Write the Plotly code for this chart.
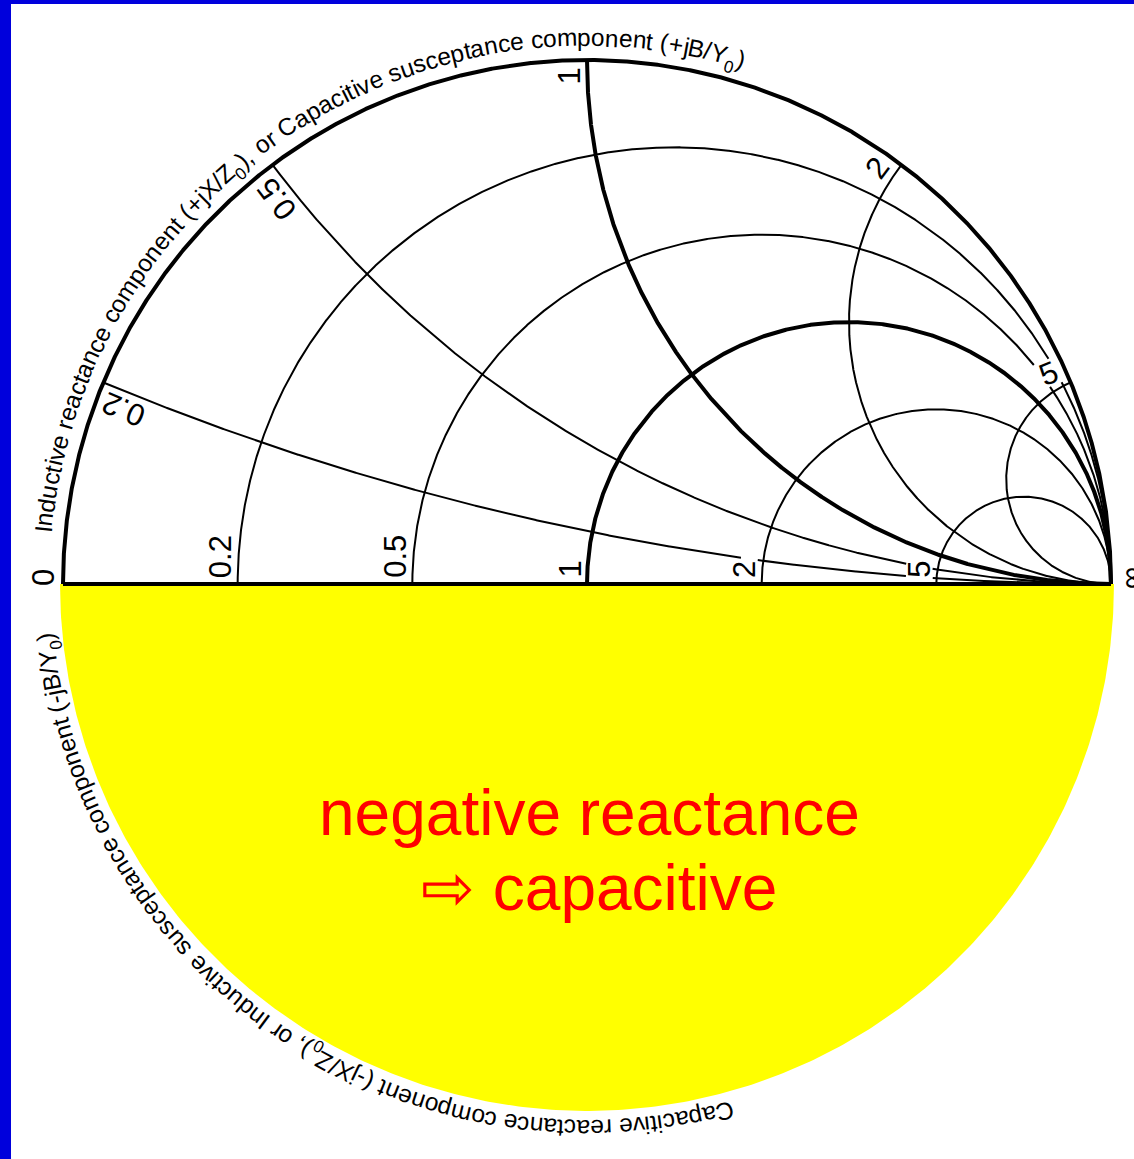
import numpy as np
import plotly.graph_objects as go

# ---------------- chart content ----------------
resistance_values = [0.2, 0.5, 1, 2, 5]
reactance_values = [0.2, 0.5, 1, 2, 5]
heavy_values = [1]                       # drawn with a heavier pen
resistance_labels = ["0.2", "0.5", "1", "2", "5"]
reactance_labels = ["0.2", "0.5", "1", "2", "5"]
axis_end_labels = ["0", "\u221e"]

# (text, is_subscript)
upper_caption = [("Inductive reactance component (+jX/Z", False), ("0", True),
                 ("), or Capacitive susceptance component (+jB/Y", False), ("0", True),
                 (")", False)]
lower_caption = [("Capacitive reactance component (-jX/Z", False), ("0", True),
                 ("), or Inductive susceptance component (-jB/Y", False), ("0", True),
                 (")", False)]
note_lines = ["negative reactance", "\u21e8 capacitive"]

# ---------------- page geometry ----------------
W, H = 1134, 1159
CX, CY, SCALE = 587, 584, 524          # pixel position of Gamma = 0, pixels per unit Gamma
FONT = "Liberation Sans, Arial, Helvetica, sans-serif"
LABEL_SIZE = 31
CAPTION_SIZE = 24.5
NOTE_SIZE = 64
THIN, THICK = 2, 4

# Arial / Liberation Sans advance widths (1/1000 em)
ADV = {" ": 278, "(": 333, ")": 333, "+": 584, ",": 278, "-": 333, "/": 278, ".": 278,
       "0": 556, "1": 556, "2": 556, "5": 556,
       "B": 667, "C": 722, "I": 278, "X": 667, "Y": 667, "Z": 611,
       "a": 556, "c": 500, "d": 556, "e": 556, "i": 222, "j": 222, "m": 833,
       "n": 556, "o": 556, "p": 556, "r": 333, "s": 500, "t": 278, "u": 556, "v": 500}


def text_width(s, size):
    return sum(ADV.get(c, 556) for c in s) / 1000.0 * size


# ---------------- value labels ----------------
labels = []   # dicts: text, c (pixels, y up), u (reading dir), v (up dir)


def add_label(text, cx, cy, ang_deg, mask=True):
    a = np.radians(ang_deg)
    u = np.array([np.cos(a), np.sin(a)])
    v = np.array([-np.sin(a), np.cos(a)])
    labels.append(dict(text=text, c=np.array([cx, cy]), u=u, v=v, ang=ang_deg, mask=mask))


SIDE = 17     # distance from the gridline to the label centre
GAP = 6       # distance from the boundary to the label end

for r, lab in zip(resistance_values, resistance_labels):
    cross = (r - 1) / (r + 1) * SCALE
    half = text_width(lab, LABEL_SIZE) / 2
    add_label(lab, cross - SIDE, GAP + half, 90)

for x, lab in zip(reactance_values, reactance_labels):
    px = (x * x - 1) / (x * x + 1) * SCALE
    py = 2 * x / (x * x + 1) * SCALE
    th = np.arctan2(py, px)
    radial = np.array([np.cos(th), np.sin(th)])
    up = np.array([-np.sin(th), np.cos(th)])
    half = text_width(lab, LABEL_SIZE) / 2
    c = np.array([px, py]) - (8 + half) * radial + SIDE * up
    add_label(lab, c[0], c[1], np.degrees(th))

add_label(axis_end_labels[0], -SCALE - 20, 6, 90, mask=False)
add_label(axis_end_labels[1], SCALE + 19, 6, 90, mask=False)


def masked(xs, ys):
    """Break a curve where it runs underneath a value label."""
    P = np.column_stack([xs, ys]) * SCALE
    hide = np.zeros(len(xs), dtype=bool)
    for lb in labels:
        if not lb["mask"]:
            continue
        d = P - lb["c"]
        along = np.abs(d @ lb["u"])
        across = np.abs(d @ lb["v"])
        ha = text_width(lb["text"], LABEL_SIZE) / 2 + 3
        hc = 0.42 * LABEL_SIZE
        hide |= (along < ha) & (across < hc)
    xs = np.where(hide, np.nan, xs)
    ys = np.where(hide, np.nan, ys)
    return xs, ys


fig = go.Figure()

# lower half disc
t = np.linspace(np.pi, 2 * np.pi, 400)
rr = 527 / SCALE
fig.add_trace(go.Scatter(x=rr * np.cos(t), y=rr * np.sin(t), mode="lines", fill="toself",
                         fillcolor="#FFFF00", line=dict(width=0), hoverinfo="skip"))

N = 2500
# constant-resistance circles (upper half)
for r in resistance_values:
    t = np.linspace(0, np.pi, N)
    c, a = r / (1 + r), 1 / (1 + r)
    xs, ys = masked(c + a * np.cos(t), a * np.sin(t))
    fig.add_trace(go.Scatter(x=xs, y=ys, mode="lines", hoverinfo="skip",
                             line=dict(color="black", width=THICK if r in heavy_values else THIN)))

# constant-reactance arcs
for x in reactance_values:
    end = np.arctan2(2 * x / (x * x + 1) - 1 / x, (x * x - 1) / (x * x + 1) - 1)
    if end > 0:
        end -= 2 * np.pi
    t = np.linspace(-np.pi / 2, end, N)
    xs, ys = masked(1 + np.cos(t) / x, 1 / x + np.sin(t) / x)
    fig.add_trace(go.Scatter(x=xs, y=ys, mode="lines", hoverinfo="skip",
                             line=dict(color="black", width=THICK if x in heavy_values else THIN)))

# outer circle (r = 0) and the real axis
t = np.linspace(0, np.pi, N)
fig.add_trace(go.Scatter(x=np.cos(t), y=np.sin(t), mode="lines", hoverinfo="skip",
                         line=dict(color="black", width=THICK)))
fig.add_trace(go.Scatter(x=[-1, 1], y=[0, 0], mode="lines", hoverinfo="skip",
                         line=dict(color="black", width=THICK)))

annotations = []
for lb in labels:
    annotations.append(dict(x=lb["c"][0] / SCALE, y=lb["c"][1] / SCALE, xref="x", yref="y",
                            text=lb["text"], showarrow=False, textangle=-lb["ang"],
                            xanchor="center", yanchor="middle",
                            font=dict(family=FONT, size=LABEL_SIZE, color="black")))


def arc_text(segments, theta0_deg, r_base, size):
    """Set a caption letter by letter, clockwise round the chart, tops outward."""
    out = []
    s = 0.0
    for text, sub in segments:
        fs = size * 0.7 if sub else size
        lift = (-0.3 * size + 0.35 * fs) if sub else 0.35 * fs
        for ch in text:
            w = ADV.get(ch, 556) / 1000.0 * fs
            if ch != " ":
                th = np.radians(theta0_deg) - (s + w / 2) / r_base
                rad = r_base + lift
                out.append(dict(x=rad * np.cos(th) / SCALE, y=rad * np.sin(th) / SCALE,
                                xref="x", yref="y", text=ch, showarrow=False,
                                textangle=90 - np.degrees(th), xanchor="center",
                                yanchor="middle",
                                font=dict(family=FONT, size=fs, color="black")))
            s += w
    return out


annotations += arc_text(upper_caption, 174.6, 538, CAPTION_SIZE)
annotations += arc_text(lower_caption, -74.4, 536, CAPTION_SIZE)

# note inside the lower half
annotations.append(dict(x=(589 - CX) / SCALE, y=(CY - 813) / SCALE, xref="x", yref="y",
                        text=note_lines[0], showarrow=False, xanchor="center", yanchor="middle",
                        font=dict(family=FONT, size=NOTE_SIZE, color="#FF0000")))
annotations.append(dict(x=(779 - CX) / SCALE, y=(CY - 888) / SCALE, xref="x", yref="y",
                        text=note_lines[1], showarrow=False, xanchor="right", yanchor="middle",
                        font=dict(family=FONT, size=NOTE_SIZE, color="#FF0000")))

fig.update_layout(
    width=W, height=H, autosize=False,
    margin=dict(l=0, r=0, t=0, b=0),
    paper_bgcolor="white", plot_bgcolor="white",
    showlegend=False, hovermode=False,
    xaxis=dict(range=[-CX / SCALE, (W - CX) / SCALE], visible=False, fixedrange=True),
    yaxis=dict(range=[-(H - CY) / SCALE, CY / SCALE], visible=False, fixedrange=True),
    annotations=annotations,
    shapes=[
        dict(type="rect", xref="paper", yref="paper", x0=0, x1=1, y0=1 - 4 / H, y1=1,
             fillcolor="#0000DC", line=dict(width=0), layer="above"),
        dict(type="rect", xref="paper", yref="paper", x0=0, x1=11 / W, y0=0, y1=1,
             fillcolor="#0000DC", line=dict(width=0), layer="above"),
    ],
)

fig.write_html("out.html")
